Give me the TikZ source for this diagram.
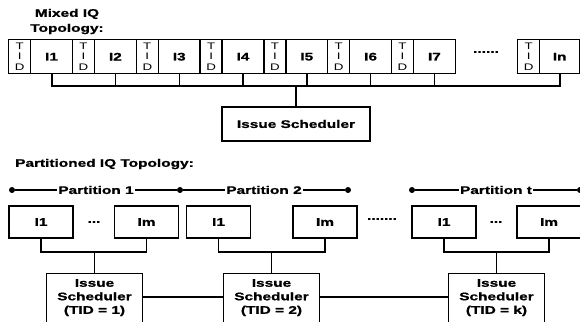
\documentclass[tikz,border=0pt]{standalone}
\usepackage{fontspec}
\setmainfont{Liberation Sans}[FakeStretch=1.4, BoldFeatures={FakeBold=1}]
\newcommand\dgfont{\bfseries\fontsize{11}{13.5}\selectfont}
\newcommand\dgtitlefont{\bfseries\fontsize{11}{15}\selectfont}
\newcommand\tidfont{\fontsize{9.5}{10.5}\selectfont}
\begin{document}
\begin{tikzpicture}[x=1pt,y=-1pt,
  dgbox/.style={draw, line width=1.4pt, inner sep=0pt, font=\dgfont},
  tidbox/.style={dgbox, minimum width=22pt, minimum height=34pt, anchor=north west, align=center, font=\tidfont},
  ibox/.style={dgbox, minimum width=41.8pt, minimum height=34pt, anchor=north west},
  pbox/.style={dgbox, minimum width=64pt, minimum height=32pt},
  sched/.style={dgbox, minimum width=96pt, minimum height=60pt, anchor=north},
  txt/.style={inner sep=0pt, font=\dgfont},
  wire/.style={line width=1.4pt},
  bus/.style={line width=1.8pt},
  trunk/.style={line width=2.6pt},
  dotn/.style={circle, fill, inner sep=0pt, minimum size=6pt},
  ptxt/.style={fill=white, inner xsep=1.5pt, inner ysep=1pt, font=\dgfont},
  stxt/.style={txt, align=center, anchor=north, yshift=-6pt}]
\useasboundingbox (0,0) rectangle (580,321);
\clip (0,0) rectangle (580,321);

% ---------- Mixed IQ topology ----------
\node[txt, align=center, font=\dgtitlefont] (mtitle) at (67,21.5) {Mixed IQ\\Topology:};

\foreach \k in {0,...,6}{
  \pgfmathsetmacro\xx{8+63.8*\k}
  \node[tidbox] (t\k) at (\xx,39) {T\\I\\D};
  \node[ibox] (i\k) at (\xx+22,39) {I\the\numexpr\k+1\relax};
}
\node[tidbox] (tn) at (517,39) {T\\I\\D};
\node[ibox, minimum width=40pt] (in) at (539,39) {In};
\node[txt] (mdots) at (486,52) {......};

\coordinate (busy) at (0,86);
\draw[bus] (i0.south) -- (i0.south |- busy) -- (in.south |- busy) -- (in.south);
\foreach \k in {1,...,6} \draw[wire] (i\k.south) -- (i\k.south |- busy);

\node[dgbox, minimum width=148pt, minimum height=34pt] (is) at (296,124) {Issue Scheduler};
\draw[trunk] (is.north |- busy) -- (is.north);

% ---------- Partitioned IQ topology ----------
\node[txt, anchor=west] (ptitle) at (15,164) {Partitioned IQ Topology:};

\node[dotn] (d1) at (12,190) {};
\node[dotn] (d2) at (180,190) {};
\node[dotn] (d3) at (348,190) {};
\node[dotn] (d4) at (412,190) {};
\node[dotn] (d5) at (580,190) {};
\draw[wire] (d1) -- (d2) node[midway, ptxt] {Partition 1};
\draw[wire] (d2) -- (d3) node[midway, ptxt] {Partition 2};
\draw[wire] (d4) -- (d5) node[midway, ptxt] {Partition t};

\node[pbox] (a1) at (41,222) {I1};
\node[pbox] (a2) at (146.5,222) {Im};
\node[pbox] (b1) at (218.5,222) {I1};
\node[pbox] (b2) at (325,222) {Im};
\node[pbox] (c1) at (444,222) {I1};
\node[pbox] (c2) at (549,222) {Im};
\node[txt] (adots) at (94,222) {...};
\node[txt] (mid) at (382,219) {.......};
\node[txt] (cdots) at (496,222) {...};

\node[sched, label={[stxt]north:{Issue\\Scheduler\\(TID = 1)}}] (s1) at (94.5,273) {};
\node[sched, label={[stxt]north:{Issue\\Scheduler\\(TID = 2)}}] (s2) at (271.5,273) {};
\node[sched, label={[stxt]north:{Issue\\Scheduler\\(TID = k)}}] (s3) at (496.5,273) {};

\coordinate (pb) at (0,252);
\draw[wire] (a1.south) -- (a1.south |- pb) -- (a2.south |- pb) -- (a2.south);
\draw[wire] (b1.south) -- (b1.south |- pb) -- (b2.south |- pb) -- (b2.south);
\draw[wire] (c1.south) -- (c1.south |- pb) -- (c2.south |- pb) -- (c2.south);
\draw[wire] (s1.north) -- (s1.north |- pb);
\draw[wire] (s2.north) -- (s2.north |- pb);
\draw[wire] (s3.north) -- (s3.north |- pb);

\coordinate (lk) at (0,297);
\draw[wire] (s1.east |- lk) -- (s2.west |- lk);
\draw[wire] (s2.east |- lk) -- (s3.west |- lk);
\end{tikzpicture}
\end{document}
